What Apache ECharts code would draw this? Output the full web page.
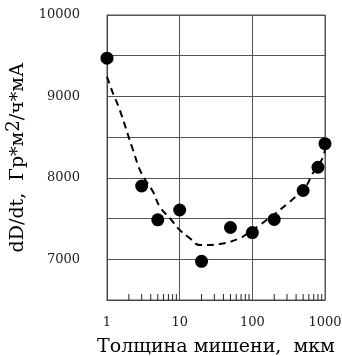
<!DOCTYPE html>
<html>
<head>
<meta charset="utf-8">
<script src="https://cdn.jsdelivr.net/npm/echarts@6/dist/echarts.min.js"></script>
<style>html,body{margin:0;padding:0;background:#fff}#c{width:342px;height:356px}</style>
</head>
<body>
<div id="c"></div>
<script>
// measured points
var thickness = [1, 3, 5, 10, 20, 50, 100, 200, 500, 800, 1000];
var doseRate  = [9470, 7900, 7485, 7605, 6975, 7390, 7328, 7490, 7845, 8130, 8420];
// dashed fit curve
var fitX = [1, 1.21, 1.5, 2.28, 2.98, 4.3, 5.32, 7.71, 9.51, 13.8, 18.9, 35.7, 67.4, 92.5, 127, 329, 560, 656, 900, 1000];
var fitY = [9242, 9038, 8833, 8342, 8056, 7830, 7646, 7482, 7380, 7258, 7175, 7188, 7258, 7339, 7421, 7707, 7912, 8035, 8219, 8342];
// minor tick positions on the log axis
var minorTicks = [2,3,4,5,6,7,8,9,20,30,40,50,60,70,80,90,200,300,400,500,600,700,800,900];
var yMin = 6500, yMax = 10000, yStep = 500;

var serif = 'DejaVu Serif';
var chart = echarts.init(document.getElementById('c'), null, {renderer: 'canvas'});
chart.setOption({
  animation: false,
  grid: {left: 107, right: 17, top: 15, bottom: 56, show: true, borderColor: '#555', borderWidth: 1,
    containLabel: false, outerBoundsMode: 'none'},
  xAxis: {
    type: 'log', logBase: 10, min: 1, max: 1000,
    name: 'Толщина мишени,  мкм', nameLocation: 'middle', nameGap: 38,
    nameTextStyle: {fontFamily: serif, fontSize: 19, color: '#000'},
    axisLine: {lineStyle: {color: '#444'}},
    axisTick: {show: false},
    axisLabel: {fontFamily: serif, fontSize: 13, color: '#222', margin: 16,
      formatter: function (v) { return String(Math.round(v)); }},
    splitLine: {show: true, lineStyle: {color: '#555', width: 1}}
  },
  yAxis: {
    type: 'value', min: yMin, max: yMax, interval: yStep,
    name: '{a|dD/dt,  Гр*м}{s|2}{a|/ч*мА}', nameLocation: 'middle', nameGap: 74, nameRotate: 90,
    nameTextStyle: {
      rich: {
        a: {fontFamily: serif, fontSize: 19, color: '#000'},
        s: {fontFamily: serif, fontSize: 18, color: '#000', padding: [0, 0, 7, 0]}
      }
    },
    axisLine: {show: true, lineStyle: {color: '#444'}},
    axisTick: {show: false},
    axisLabel: {
      fontFamily: serif, fontSize: 13, color: '#222', margin: 27,
      formatter: function (v) { return v % 1000 === 0 ? String(v) : ''; }
    },
    splitLine: {show: true, lineStyle: {color: '#555', width: 1}}
  },
  series: [
    {
      type: 'line', smooth: 0.4, showSymbol: false, silent: true,
      data: fitX.map(function (x, i) { return [x, fitY[i]]; }),
      lineStyle: {color: '#000', width: 2, type: [7, 5]},
      z: 2
    },
    {
      type: 'scatter', symbol: 'circle', symbolSize: 13,
      data: thickness.map(function (x, i) { return [x, doseRate[i]]; }),
      itemStyle: {color: '#000', opacity: 1},
      clip: false, z: 3
    },
    {
      type: 'scatter', symbol: 'rect', symbolSize: [1, 6], symbolOffset: [0, -3],
      data: minorTicks.map(function (x) { return [x, yMin]; }),
      itemStyle: {color: '#222', opacity: 1}, silent: true, z: 1
    }
  ]
});
</script>
</body>
</html>
